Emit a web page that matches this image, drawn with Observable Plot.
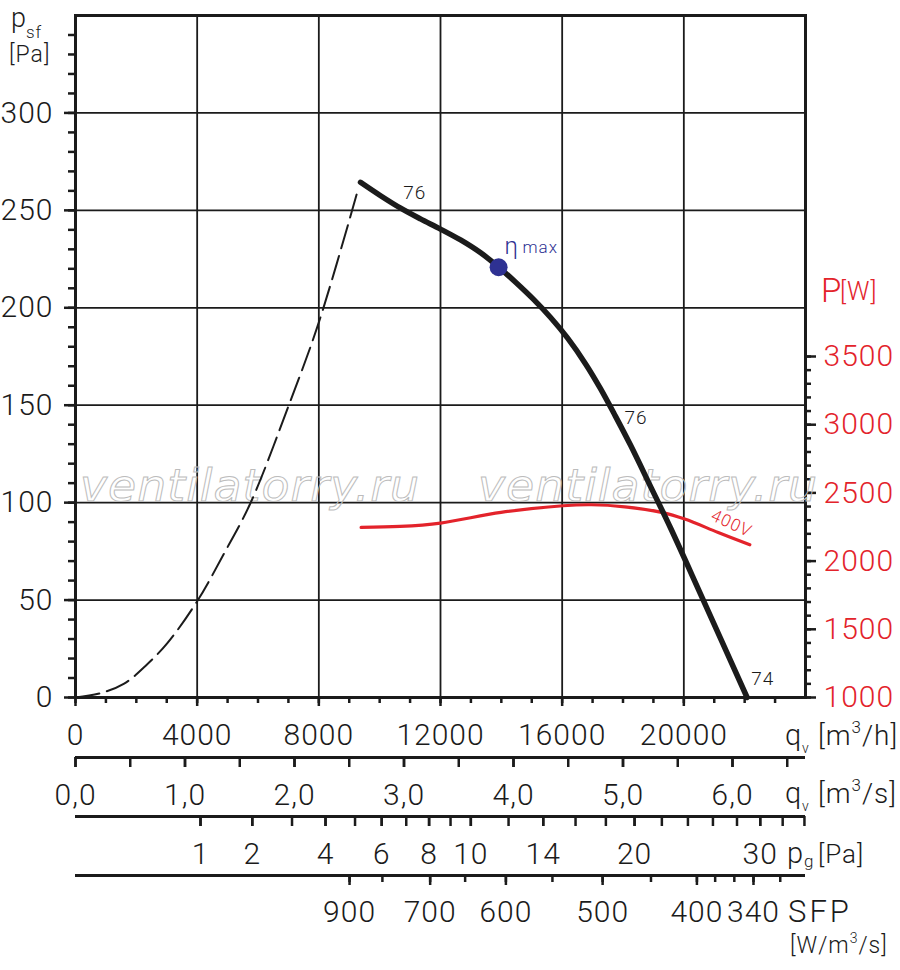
<!DOCTYPE html>
<html><head><meta charset="utf-8">
<script src="https://cdn.jsdelivr.net/npm/d3@7"></script>
<script src="https://cdn.jsdelivr.net/npm/@observablehq/plot@0.6"></script>
<style>
html,body{margin:0;padding:0;background:#fff;overflow:hidden;}
#chart svg text{letter-spacing:1px;font-weight:300;}
</style></head><body><div id="chart"></div>
<script>
// ---------------- data ----------------
// fan curve (solid), q in m3/h, p_sf in Pa
const fanQ = [9370, 10030, 10690, 11340, 12000, 12660, 13320, 13910, 14470, 15060, 15620, 16180, 16770, 17260, 17750, 18250, 18900, 19560, 20550, 22080];
const fanP = [264.4, 257.5, 251.1, 245.6, 240.4, 234.8, 228.2, 220.9, 213.1, 204.3, 195.0, 184.4, 171.2, 158.5, 144.4, 129.4, 108.5, 87.1, 53.1, 0];
// unstable region (dashed)
const stallQ = [0, 820, 1600, 2300, 3020, 4000, 4880, 5750, 7010, 8000, 9280];
const stallP = [0, 2.2, 7.1, 16.2, 27.9, 49.4, 73.8, 99.7, 149.9, 192.5, 260.2];
// input power (red), W
const powerQ = [9390, 10670, 12000, 13990, 16030, 16960, 18060, 19270, 20030, 21130, 22170];
const powerW = [2247, 2254, 2279, 2357, 2406, 2413, 2398, 2357, 2308, 2210, 2120];
// eta max point
const etaPoint = [{q: 13910, p: 220.8}];
const etaLabel = [{q: 14104, p: 231.7}];
// sound level labels on the fan curve
const curveLabels = [{q: 10774, p: 259.1, t: "76"}, {q: 18049, p: 143.7, t: "76"}, {q: 22215, p: 9.4, t: "74"}];
const voltLabel = [{q: 21568, p: 89.3, t: "400V"}];

// axes
const qDomain = [0, 24000];
const psfDomain = [0, 350];
const pwDomain = [1000, 6000];           // right axis shares the frame height
const qhTicks = [0, 4000, 8000, 12000, 16000, 20000];
const qhMinor = d3.range(0, 24000, 1000);
const psfTicks = [0, 50, 100, 150, 200, 250, 300];
const psfMinor = d3.range(0, 350, 10);
const pwTicks = [1000, 1500, 2000, 2500, 3000, 3500];
const pwMinor = d3.range(1000, 3501, 100);
const qsTicks = [0, 1, 2, 3, 4, 5, 6];
const qsMinor = d3.range(0, 6.6, 0.5);
const pgFactor = 4110;                   // m3/h per sqrt(Pa)
const pgTicks = [1, 2, 3, 4, 5, 6, 7, 8, 9, 10, 12, 14, 16, 18, 20, 22, 24, 26, 28, 30, 32, 34];
const pgLabels = [1, 2, 4, 6, 8, 10, 14, 20, 30];
const sfpValues = [900, 800, 700, 650, 600, 550, 500, 450, 400, 380, 360, 340, 320];
const sfpQ = [9010, 10090, 11660, 12810, 14150, 15680, 17330, 18920, 20430, 21030, 21660, 22290, 23170];
const sfpLabels = [900, 700, 600, 500, 400, 340];

// ---------------- build ----------------
const ink = "#1b1b1b", red = "#e3232b", blue = "#2e3192";
const wToY = w => (w - pwDomain[0]) * (psfDomain[1] - psfDomain[0]) / (pwDomain[1] - pwDomain[0]);
const yToW = y => String(Math.round(y * (pwDomain[1] - pwDomain[0]) / (psfDomain[1] - psfDomain[0]) + pwDomain[0]));
const fan = fanQ.map((q, i) => ({q, p: fanP[i]}));
const stall = stallQ.map((q, i) => ({q, p: stallP[i]}));
const power = powerQ.map((q, i) => ({q, w: powerW[i]}));
const sfpMap = new Map(sfpValues.map((s, i) => [sfpQ[i], s]));
const pgQ = v => pgFactor * Math.sqrt(v);

const fontNum = 30;
const tickW = 2.5;
const gap1 = 60, gap2 = 119, gap3 = 178;

const plot = Plot.plot({
  width: 900, height: 970,
  marginTop: 15, marginLeft: 75, marginRight: 95, marginBottom: 273,
  x: {domain: qDomain, label: null},
  y: {domain: psfDomain, label: null},
  style: {fontFamily: "Roboto, 'DejaVu Sans', sans-serif", color: ink, background: "#fff"},
  marks: [
    Plot.gridX(qhTicks.slice(1), {stroke: ink, strokeOpacity: 1, strokeWidth: 1.8}),
    Plot.gridY(psfTicks.slice(1), {stroke: ink, strokeOpacity: 1, strokeWidth: 1.8}),
    Plot.frame({stroke: ink, strokeWidth: 3}),
    // left axis
    Plot.axisY(psfMinor, {tickSize: 7, tickFormat: () => "", strokeWidth: tickW, label: null}),
    Plot.axisY(psfTicks, {tickSize: 11, tickPadding: 11, fontSize: fontNum, strokeWidth: tickW, label: null}),
    // right axis (power)
    Plot.axisY(pwMinor.map(wToY), {anchor: "right", tickSize: 5, tickFormat: () => "", strokeWidth: tickW, label: null}),
    Plot.axisY(pwTicks.map(wToY), {anchor: "right", tickSize: 10, tickPadding: 8, fontSize: fontNum, fill: red, stroke: ink, strokeWidth: tickW, tickFormat: yToW, label: null}),
    // bottom axis m3/h
    Plot.axisX(qhMinor, {tickSize: 6, tickFormat: () => "", strokeWidth: tickW, label: null}),
    Plot.axisX(qhTicks, {tickSize: 9, tickPadding: 17, fontSize: fontNum, strokeWidth: tickW, tickFormat: d => String(d), label: null}),
    // m3/s axis
    Plot.ruleY([0], {dy: gap1, stroke: ink, strokeWidth: 3}),
    Plot.axisX(qsMinor.map(v => v * 3600), {dy: gap1, tickSize: 10, tickFormat: () => "", strokeWidth: tickW, label: null}),
    Plot.axisX(qsTicks.map(v => v * 3600), {dy: gap1, tickSize: 10, tickPadding: 16, fontSize: fontNum, strokeWidth: tickW,
      tickFormat: d => (d / 3600).toFixed(1).replace(".", ","), label: null}),
    // pg axis
    Plot.ruleY([0], {dy: gap2, stroke: ink, strokeWidth: 3}),
    Plot.axisX(pgTicks.map(pgQ), {dy: gap2, tickSize: 10, tickFormat: () => "", strokeWidth: tickW, label: null}),
    Plot.axisX(pgLabels.map(pgQ), {dy: gap2, tickSize: 10, tickPadding: 16, fontSize: fontNum, strokeWidth: tickW,
      tickFormat: d => String(Math.round((d / pgFactor) ** 2)), label: null}),
    // SFP axis
    Plot.ruleY([0], {dy: gap3, stroke: ink, strokeWidth: 3}),
    Plot.axisX(sfpQ, {dy: gap3, tickSize: 7, tickFormat: () => "", strokeWidth: tickW, label: null}),
    Plot.axisX(sfpQ.filter(q => sfpLabels.includes(sfpMap.get(q))), {dy: gap3, tickSize: 10, tickPadding: 15, fontSize: fontNum, strokeWidth: tickW,
      tickFormat: d => String(sfpMap.get(d)), label: null}),
    // curves
    Plot.line(stall, {x: "q", y: "p", stroke: ink, strokeWidth: 2, strokeDasharray: "24,8", curve: "catmull-rom"}),
    Plot.line(power, {x: "q", y: d => wToY(d.w), stroke: red, strokeWidth: 3.2, curve: "catmull-rom"}),
    Plot.line(fan, {x: "q", y: "p", stroke: ink, strokeWidth: 5.5, strokeLinecap: "round", curve: "catmull-rom"}),
    Plot.dot(etaPoint, {x: "q", y: "p", r: 9, fill: blue, stroke: null}),
    Plot.text(etaLabel, {x: "q", y: "p", text: () => "η", fill: blue, fontSize: 24, textAnchor: "start", lineAnchor: "middle"}),
    Plot.text(etaLabel, {x: "q", y: "p", text: () => "max", dx: 18, dy: 2, fill: blue, fontSize: 17, textAnchor: "start", lineAnchor: "middle"}),
    Plot.text(curveLabels, {x: "q", y: "p", text: "t", fill: ink, fontSize: 19, textAnchor: "start", lineAnchor: "middle"}),
    Plot.text(voltLabel, {x: "q", y: d => d.p, text: "t", fill: red, fontSize: 17, rotate: 25, textAnchor: "middle", lineAnchor: "middle"})
  ]
});
document.getElementById("chart").append(plot);

// ---------------- titles & watermark ----------------
const svg = d3.select(plot);
const fam = "Roboto, 'DejaVu Sans', sans-serif";
function label(x, y, parts, fill = ink) {
  const t = svg.append("text").attr("x", x).attr("y", y).attr("fill", fill)
    .attr("font-family", fam).attr("text-anchor", "start");
  parts.forEach(p => {
    const s = t.append("tspan").attr("font-size", p.size).text(p.text);
    if (p.dy) s.attr("dy", p.dy);
    if (p.ls != null) s.attr("letter-spacing", p.ls);
  });
  return t;
}
// watermark
const wm = svg.insert("g", "g[aria-label='line']").attr("fill", "none").attr("stroke", "#bcbcbc").attr("stroke-width", 1);
[80, 478].forEach(x => wm.append("text").attr("x", x).attr("y", 501).attr("text-anchor", "start")
  .attr("font-family", "'DejaVu Sans', sans-serif").attr("font-style", "italic").attr("font-size", 45)
  .attr("textLength", 340).attr("lengthAdjust", "spacingAndGlyphs").text("ventilatorry.ru"));

// left title
label(11, 27, [{text: "p", size: 27}]);
label(26, 38, [{text: "sf", size: 17}]);
label(9, 62, [{text: "[Pa]", size: 23}]);
// right title
label(821, 302, [{text: "P", size: 33}], red);
label(840, 300, [{text: "[W]", size: 25}], red);
// bottom titles
[[745, "h"], [803, "s"]].forEach(([y, u]) => {
  label(785, y, [{text: "q", size: 29}]);
  label(802, y + 8, [{text: "v", size: 14}]);
  label(818, y, [{text: "[m", size: 28}, {text: "3", size: 17, dy: -12}, {text: "/" + u + "]", size: 28, dy: 12}]);
});
label(787, 863, [{text: "p", size: 29}]);
label(804, 867, [{text: "g", size: 17}]);
label(818, 863, [{text: "[Pa]", size: 26}]);
label(788, 922, [{text: "SFP", size: 31, ls: 3}]);
label(790, 953, [{text: "[W/m", size: 23}, {text: "3", size: 14, dy: -10}, {text: "/s]", size: 23, dy: 10}]);
</script></body></html>
